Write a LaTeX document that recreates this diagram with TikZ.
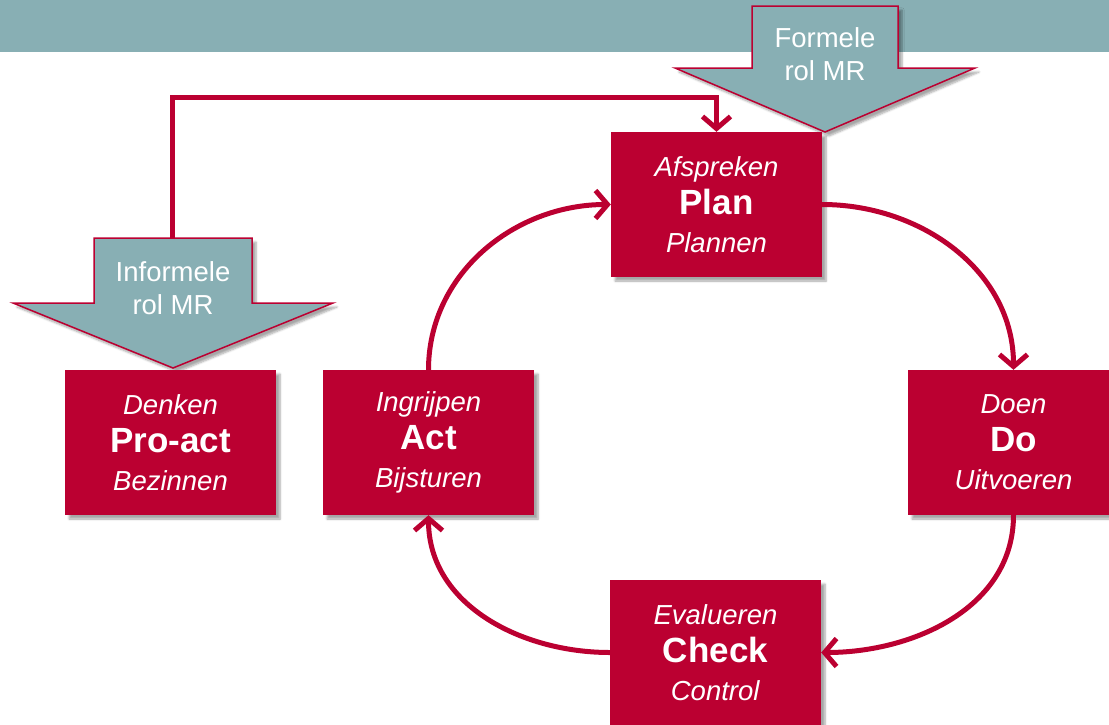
\documentclass[tikz,border=0pt]{standalone}
\usepackage{fontspec}
\setmainfont{Liberation Sans}
\usetikzlibrary{arrows.meta}
\usetikzlibrary{shadows.blur}

\definecolor{mrred}{RGB}{187,0,49}
\definecolor{mrteal}{RGB}{136,175,180}

\begin{document}
\begin{tikzpicture}[x=1pt, y=-1pt]
   \tikzset{ShadowStyle/.style={blur shadow={shadow xshift=4pt, shadow yshift=-4pt, shadow blur steps=6, shadow opacity=35}}}
   \tikzset{StageStyle/.style={fill=mrred, text=white, minimum width=211pt, minimum height=145pt, inner sep=0pt, align=center, font=\fontsize{27.5}{38}\selectfont, ShadowStyle}}
   \tikzset{RoleStyle/.style={fill=mrteal, draw=mrred, line width=1.5pt, ShadowStyle}}
   \tikzset{RoleText/.style={text=white, align=center, font=\fontsize{27.5}{33}\selectfont}}
   \tikzset{EdgeStyle/.style={draw=mrred, line width=5pt, -{Straight Barb[length=12pt, width=28pt]}}}
   \useasboundingbox (0,0) rectangle (1109,724);
   % band
   \fill[mrteal] (0,0) rectangle (1109,52);
   % roles
   \path[RoleStyle] (752,6) -- (898,6) -- (898,68) -- (975,68) -- (825,132) -- (675,68) -- (752,68) -- cycle;
   \path[RoleStyle] (94,238) -- (252,238) -- (252,303) -- (333,303) -- (173,368) -- (13,303) -- (94,303) -- cycle;
   \node[RoleText] (formele) at (825,54) {Formele\\rol MR};
   \node[RoleText] (informele) at (173,288) {Informele\\rol MR};
   \coordinate (inftop) at (172,238);
   \coordinate (corner) at (715,97);
   % stages
   \node[StageStyle] (plan) at (716.5,204.5) {\textit{Afspreken}\\{\bfseries\fontsize{35}{38}\selectfont Plan}\\\textit{Plannen}};
   \node[StageStyle] (proact) at (170.5,442.5) {\textit{Denken}\\{\bfseries\fontsize{35}{38}\selectfont Pro-act}\\\textit{Bezinnen}};
   \node[StageStyle] (act) at (428.5,442.5) {\textit{Ingrijpen}\\{\bfseries\fontsize{35}{38}\selectfont Act}\\\textit{Bijsturen}};
   \node[StageStyle] (do) at (1013.5,442.5) {\textit{Doen}\\{\bfseries\fontsize{35}{38}\selectfont Do}\\\textit{Uitvoeren}};
   \node[StageStyle] (check) at (715.5,652.5) {\textit{Evalueren}\\{\bfseries\fontsize{35}{38}\selectfont Check}\\\textit{Control}};
   % edges
   \draw[EdgeStyle] (inftop) |- (corner) -| (plan.north);
   \draw[EdgeStyle] (plan.east) to[out=0, in=90] (do.north);
   \draw[EdgeStyle] (do.south) to[out=-90, in=0] (check.east);
   \draw[EdgeStyle] (check.west) to[out=180, in=-90] (act.south);
   \draw[EdgeStyle] (act.north) to[out=90, in=180] (plan.west);
\end{tikzpicture}
\end{document}
